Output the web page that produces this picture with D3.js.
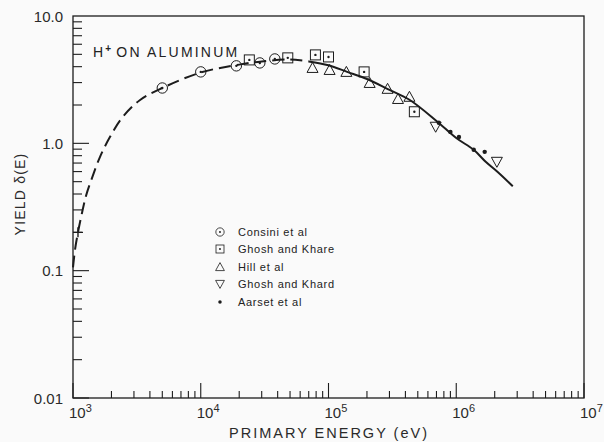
<!DOCTYPE html>
<html><head><meta charset="utf-8">
<script src="https://cdn.jsdelivr.net/npm/d3@7"></script>
<style>
html,body{margin:0;padding:0;background:#fafafa;}
svg{display:block;font-family:"Liberation Sans",Arial,sans-serif;}
</style></head>
<body><svg id="c" width="604" height="442"></svg>
<script>
// ---- data ----
const consiniE = [5e3, 1e4, 1.9e4, 2.9e4, 3.8e4];
const consiniY = [2.72, 3.64, 4.06, 4.28, 4.6];
const ghoshKhareE = [2.4e4, 4.8e4, 7.9e4, 1.0e5, 1.9e5, 4.7e5];
const ghoshKhareY = [4.52, 4.69, 4.95, 4.77, 3.64, 1.77];
const hillE = [7.5e4, 1.02e5, 1.38e5, 2.1e5, 2.9e5, 3.5e5, 4.3e5];
const hillY = [3.91, 3.77, 3.64, 2.98, 2.68, 2.23, 2.32];
const ghoshKhardE = [6.9e5, 2.08e6];
const ghoshKhardY = [1.35, 0.716];
const aarsetE = [7.3e5, 9.0e5, 1.05e6, 1.37e6, 1.67e6];
const aarsetY = [1.45, 1.23, 1.12, 0.89, 0.857];
const crossE = [1.094e3];
const crossY = [0.2];
const fitE = [1e3, 1.037e3, 1.094e3, 1.177e3, 1.265e3, 1.41e3, 1.628e3, 1.95e3, 2.42e3, 3.35e3, 5e3, 1e4, 2e4, 3e4, 5e4, 7e4, 1e5, 1.4e5, 2e5, 3e5, 4.3e5, 7e5, 1e6, 1.37e6, 1.7e6, 2.1e6, 2.77e6];
const fitY = [0.106, 0.146, 0.2, 0.285, 0.388, 0.536, 0.784, 1.125, 1.585, 2.19, 2.72, 3.6, 4.15, 4.4, 4.55, 4.4, 4.1, 3.64, 3.2, 2.63, 2.2, 1.5, 1.1, 0.89, 0.716, 0.598, 0.46];
const fitSolidFrom = 7e4;
const xTickExp = [3, 4, 5, 6, 7];
const yTickLabels = ["10.0", "1.0", "0.1", "0.01"];
const yTickValues = [10, 1, 0.1, 0.01];
const legendNames = ["Consini et al", "Ghosh and Khare", "Hill et al", "Ghosh and Khard", "Aarset et al"];
const title = "ON ALUMINUM";
const xTitle = "PRIMARY ENERGY (eV)";
const yTitle = "YIELD δ(E)";

// ---- layout ----
const ink = "#1c1c1c";
const L = 73, R = 584, T = 16, B = 398;
const x = d3.scaleLog().domain([1e3, 1e7]).range([L, R]);
const y = d3.scaleLog().domain([0.01, 10]).range([B, T]);
const svg = d3.select("#c");

// frame
svg.append("rect").attr("x", L).attr("y", T).attr("width", R - L).attr("height", B - T)
  .attr("fill", "none").attr("stroke", ink).attr("stroke-width", 1.3);

// x ticks (inward)
const xt = [];
for (let e = 3; e < 7; e++) for (let m = 1; m <= 9; m++) xt.push({v: m * Math.pow(10, e), major: m === 1});
xt.push({v: 1e7, major: true});
svg.append("g").selectAll("line").data(xt).join("line")
  .attr("x1", d => x(d.v)).attr("x2", d => x(d.v))
  .attr("y1", B).attr("y2", d => B - (d.major ? 15 : 7))
  .attr("stroke", ink).attr("stroke-width", 1.1);
// y ticks (inward)
const yt = [];
for (let e = -2; e < 1; e++) for (let m = 1; m <= 9; m++) yt.push({v: m * Math.pow(10, e), major: m === 1});
svg.append("g").selectAll("line").data(yt).join("line")
  .attr("x1", L).attr("x2", d => L + (d.major ? 16 : 9))
  .attr("y1", d => y(d.v)).attr("y2", d => y(d.v))
  .attr("stroke", ink).attr("stroke-width", 1.1);

// x tick labels
const xl = svg.append("g").attr("fill", "#2a2a2a").attr("font-size", 15);
xTickExp.forEach(e => {
  const t = xl.append("text").attr("x", x(Math.pow(10, e)) - 4).attr("y", 418);
  t.append("tspan").text("10");
  t.append("tspan").attr("dy", -6).attr("font-size", 11).text(e);
});
// y tick labels
svg.append("g").attr("fill", "#2a2a2a").attr("font-size", 15).attr("text-anchor", "end")
  .selectAll("text").data(yTickValues).join("text")
  .attr("x", 63).attr("y", d => y(d) + 5.5).text((d, i) => yTickLabels[i]);

// axis titles
svg.append("text").attr("x", 329).attr("y", 438).attr("text-anchor", "middle")
  .attr("font-size", 14.5).attr("letter-spacing", 2).attr("fill", "#2a2a2a").text(xTitle);
svg.append("text").attr("transform", "translate(25,194) rotate(-90)").attr("text-anchor", "middle")
  .attr("font-size", 14).attr("letter-spacing", 1.2).attr("fill", "#2a2a2a").text(yTitle);

// title
const tt = svg.append("text").attr("x", 93).attr("y", 57).attr("font-size", 14).attr("letter-spacing", 2.2).attr("fill", "#222");
tt.append("tspan").text("H");
tt.append("tspan").attr("dy", -5).attr("font-size", 10).attr("font-weight", "bold").text("+");
tt.append("tspan").attr("dy", 5).attr("dx", 3).text(title);

// fit curve
const fit = fitE.map((e, i) => ({e, v: fitY[i]}));
const line = d3.line().x(d => x(d.e)).y(d => y(d.v)).curve(d3.curveCatmullRom.alpha(0.5));
svg.append("path").datum(fit.filter(d => d.e <= fitSolidFrom)).attr("d", line)
  .attr("fill", "none").attr("stroke", ink).attr("stroke-width", 2).attr("stroke-dasharray", "12,6");
svg.append("path").datum(fit.filter(d => d.e >= fitSolidFrom)).attr("d", line)
  .attr("fill", "none").attr("stroke", ink).attr("stroke-width", 2);

// markers
const sym = {
  circle: (g) => { g.append("circle").attr("r", 5.2).attr("fill", "none").attr("stroke", ink).attr("stroke-width", 1);
                   g.append("circle").attr("r", 1.2).attr("fill", ink); },
  square: (g) => { g.append("rect").attr("x", -5).attr("y", -5).attr("width", 10).attr("height", 10)
                     .attr("fill", "none").attr("stroke", ink).attr("stroke-width", 1);
                   g.append("circle").attr("r", 1.2).attr("fill", ink); },
  tri: (g) => g.append("path").attr("d", "M0,-5.5L5.5,4.5L-5.5,4.5Z").attr("fill", "none").attr("stroke", ink).attr("stroke-width", 1),
  itri: (g) => g.append("path").attr("d", "M0,5.5L5.5,-4.5L-5.5,-4.5Z").attr("fill", "none").attr("stroke", ink).attr("stroke-width", 1),
  dot: (g) => g.append("circle").attr("r", 2.2).attr("fill", ink),
  cross: (g) => g.append("path").attr("d", "M-5,0H5M0,-5V5").attr("stroke", ink).attr("stroke-width", 1.4)
};
const series = [
  {E: consiniE, Y: consiniY, s: "circle"},
  {E: ghoshKhareE, Y: ghoshKhareY, s: "square"},
  {E: hillE, Y: hillY, s: "tri"},
  {E: ghoshKhardE, Y: ghoshKhardY, s: "itri"},
  {E: aarsetE, Y: aarsetY, s: "dot"},
  {E: crossE, Y: crossY, s: "cross"}
];
series.forEach(sr => {
  sr.E.forEach((e, i) => {
    const g = svg.append("g").attr("transform", `translate(${x(e)},${y(sr.Y[i])})`);
    sym[sr.s](g);
  });
});

// legend
const legSyms = ["circle", "square", "tri", "itri", "dot"];
const legY = [232, 249, 267, 284, 302];
legendNames.forEach((n, i) => {
  const g = svg.append("g").attr("transform", `translate(220,${legY[i]})`);
  const gs = g.append("g").attr("transform", "scale(0.8)");
  sym[legSyms[i]](gs);
  g.append("text").attr("x", 18).attr("y", 4).attr("font-size", 11).attr("letter-spacing", 0.7)
    .attr("fill", "#222").text(n);
});
</script></body></html>
